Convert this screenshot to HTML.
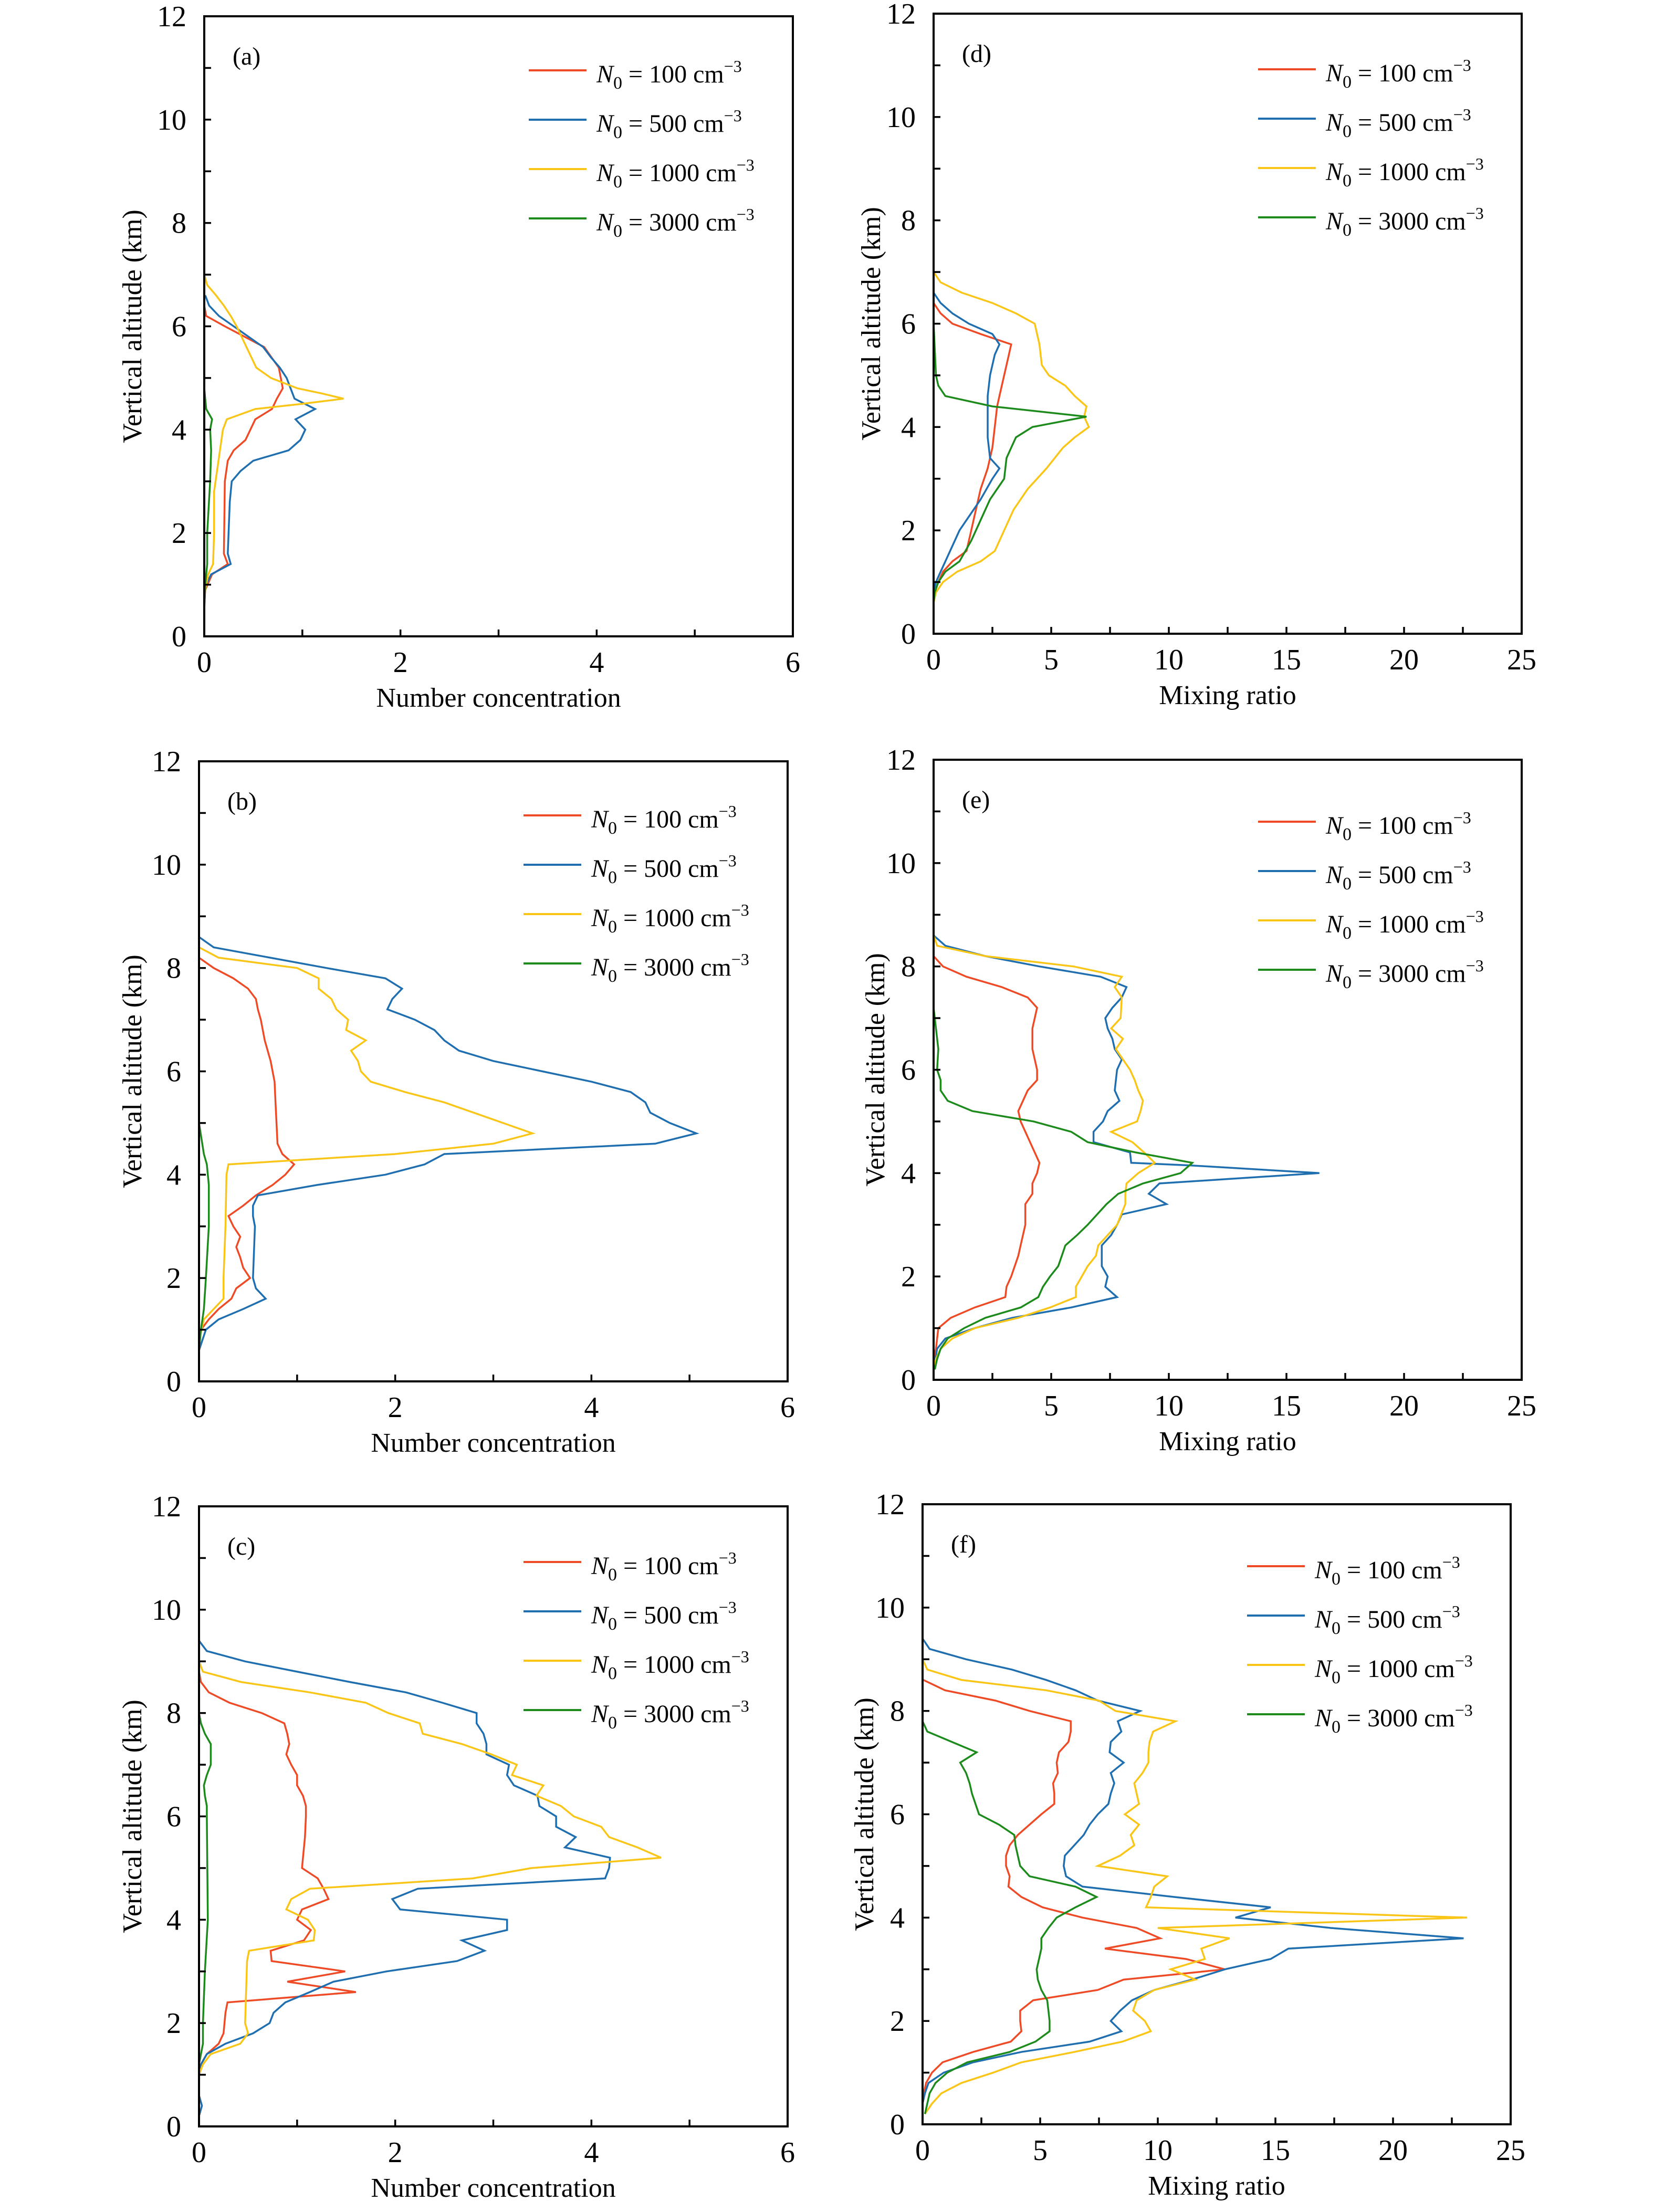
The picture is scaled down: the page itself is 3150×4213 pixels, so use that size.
<!DOCTYPE html>
<html><head><meta charset="utf-8"><style>
html,body{margin:0;padding:0;background:#fff;}
svg{display:block;}
text{font-family:"Liberation Serif","Times New Roman",serif;fill:#000;}
</style></head>
<body>
<svg id="fig" xmlns="http://www.w3.org/2000/svg" width="3150" height="4213" viewBox="0 0 3150 4213" font-family="'Liberation Serif', 'Times New Roman', serif">
</svg>
<script>
// ---------- Panel (a): number concentration ----------
const aRedAlt=[6.4,6.2,6.0,5.6,5.2,4.8,4.6,4.4,4.2,3.8,3.6,3.4,3.0,1.6,1.4,1.2,0.9,0.6];
const aRedVal=[0,0.02,0.21,0.61,0.76,0.80,0.74,0.69,0.52,0.42,0.30,0.24,0.21,0.20,0.24,0.08,0.01,0];
const aBlueAlt=[6.6,6.4,6.2,6.0,5.8,5.6,5.4,5.2,5.0,4.8,4.6,4.4,4.2,4.0,3.8,3.6,3.4,3.2,3.0,2.6,1.6,1.4,1.2,1.0,0.8];
const aBlueVal=[0.01,0.05,0.15,0.3,0.45,0.6,0.68,0.77,0.84,0.88,0.92,1.13,0.93,1.03,0.98,0.86,0.5,0.37,0.28,0.26,0.24,0.27,0.07,0.02,0];
const aYelAlt=[7.0,6.8,6.6,6.4,6.2,6.0,5.8,5.6,5.4,5.2,5.0,4.8,4.7,4.6,4.5,4.4,4.2,4.0,3.6,3.2,2.8,2.0,1.4,1.2,1.0,0.8];
const aYelVal=[0,0.03,0.12,0.2,0.27,0.33,0.38,0.43,0.48,0.53,0.68,0.95,1.2,1.42,1.0,0.52,0.23,0.19,0.16,0.13,0.1,0.1,0.09,0.04,0.02,0];
const aGrnAlt=[12,4.8,4.4,4.2,4.0,3.6,3.0,2.0,1.4,1.0,0.5,0.2];
const aGrnVal=[0,0,0.02,0.08,0.06,0.07,0.06,0.03,0.03,0.01,0,0];
// ---------- Panel (b) ----------
const bRedAlt=[8.2,8.0,7.8,7.6,7.4,7.2,7.0,6.6,6.2,5.8,5.4,5.0,4.6,4.4,4.2,4.0,3.8,3.6,3.4,3.2,3.0,2.8,2.6,2.4,2.2,2.0,1.8,1.6,1.4,1.2,1.0,0.8];
const bRedVal=[0,0.15,0.35,0.5,0.58,0.6,0.63,0.67,0.73,0.77,0.78,0.79,0.8,0.85,0.97,0.88,0.75,0.58,0.45,0.3,0.35,0.42,0.38,0.42,0.45,0.52,0.38,0.33,0.2,0.1,0.02,0];
const bBlueAlt=[8.6,8.4,8.0,7.8,7.6,7.4,7.2,7.0,6.8,6.6,6.4,6.2,6.0,5.8,5.6,5.4,5.2,5.0,4.8,4.6,4.4,4.2,4.0,3.8,3.6,3.4,3.2,3.0,2.0,1.8,1.6,1.4,1.2,1.0,0.6];
const bBlueVal=[0,0.15,1.3,1.9,2.07,1.97,1.92,2.2,2.4,2.5,2.65,3.0,3.5,4.0,4.4,4.55,4.6,4.8,5.07,4.65,2.5,2.3,1.9,1.2,0.6,0.55,0.55,0.57,0.55,0.58,0.68,0.45,0.2,0.07,0];
const bYelAlt=[8.4,8.2,8.0,7.8,7.6,7.4,7.2,7.0,6.8,6.6,6.4,6.2,6.0,5.8,5.6,5.4,5.2,5.0,4.8,4.6,4.4,4.2,4.0,3.0,2.0,1.6,1.4,1.2,0.8];
const bYelVal=[0,0.2,1.0,1.22,1.22,1.35,1.4,1.52,1.5,1.7,1.55,1.62,1.65,1.75,2.1,2.5,2.8,3.1,3.4,3.0,2.0,0.3,0.28,0.27,0.25,0.25,0.15,0.05,0];
const bGrnAlt=[12,5.0,4.4,4.2,3.8,3.0,2.0,1.4,1.0,0.6,0.2];
const bGrnVal=[0,0,0.05,0.08,0.1,0.1,0.07,0.05,0.02,0,0];
// ---------- Panel (c) ----------
const cRedAlt=[8.8,8.6,8.4,8.2,8.0,7.8,7.6,7.4,7.2,7.0,6.8,6.6,6.4,6.2,6.0,5.6,5.2,5.0,4.8,4.6,4.4,4.2,4.0,3.8,3.6,3.4,3.2,3.0,2.8,2.6,2.4,2.2,1.8,1.6,1.4,1.2,1.0];
const cRedVal=[0,0.02,0.1,0.31,0.64,0.87,0.9,0.92,0.89,0.94,1.0,1.0,1.06,1.09,1.09,1.08,1.06,1.05,1.21,1.27,1.32,1.05,1.0,1.14,1.07,0.73,0.74,1.49,0.9,1.6,0.29,0.27,0.25,0.2,0.08,0.02,0];
const cBlueAlt=[9.4,9.2,9.0,8.8,8.6,8.4,8.2,8.0,7.8,7.6,7.4,7.2,7.0,6.8,6.6,6.4,6.2,6.0,5.8,5.6,5.4,5.2,5.0,4.8,4.6,4.4,4.2,4.0,3.8,3.6,3.4,3.2,3.0,2.8,2.6,2.4,2.2,2.0,1.8,1.6,1.4,1.2,1.0,0.6,0.4,0.2];
const cBlueVal=[0,0.08,0.47,1.0,1.54,2.11,2.48,2.83,2.83,2.9,2.93,2.93,3.16,3.14,3.21,3.45,3.47,3.64,3.64,3.84,3.73,4.19,4.18,4.14,2.23,1.97,2.05,3.14,3.14,2.68,2.91,2.63,1.91,1.37,1.13,0.88,0.76,0.72,0.55,0.27,0.08,0.02,0,0,0.03,0];
const cYelAlt=[9.0,8.8,8.6,8.4,8.2,8.0,7.8,7.6,7.4,7.2,7.0,6.8,6.6,6.4,6.2,6.0,5.8,5.6,5.4,5.2,5.0,4.8,4.6,4.4,4.2,4.0,3.8,3.6,3.4,3.2,2.0,1.8,1.6,1.4,1.2,1.0];
const cYelVal=[0,0.04,0.43,1.13,1.7,1.93,2.25,2.28,2.68,2.98,3.24,3.19,3.51,3.44,3.69,3.82,4.1,4.18,4.47,4.71,3.39,2.79,1.13,0.94,0.89,1.11,1.18,1.17,0.51,0.49,0.47,0.5,0.42,0.12,0.04,0];
const cGrnAlt=[12,8.0,7.8,7.6,7.4,7.2,7.0,6.8,6.6,6.4,6.2,6.0,4.0,3.0,2.0,1.6,1.4,1.2,0.2];
const cGrnVal=[0,0,0.02,0.06,0.12,0.12,0.12,0.08,0.05,0.06,0.08,0.08,0.09,0.06,0.04,0.04,0.02,0,0];
// ---------- Panel (d): mixing ratio ----------
const dRedAlt=[6.4,6.2,6.0,5.8,5.6,5.4,5.0,4.6,4.4,4.0,3.6,3.2,2.8,2.4,2.0,1.6,1.4,1.2,1.0,0.8,0.6];
const dRedVal=[0,0.3,0.8,2.0,3.3,3.2,3.0,2.8,2.7,2.6,2.5,2.3,2.0,1.8,1.6,1.4,0.8,0.4,0.2,0.05,0];
const dBlueAlt=[6.6,6.4,6.2,6.0,5.8,5.6,5.4,5.0,4.6,4.2,3.8,3.4,3.2,3.0,2.6,2.2,2.0,1.6,1.2,1.0,0.8];
const dBlueVal=[0,0.3,0.8,1.5,2.5,2.8,2.6,2.4,2.3,2.3,2.3,2.4,2.8,2.5,2.0,1.4,1.1,0.7,0.3,0.1,0];
const dYelAlt=[7.0,6.8,6.6,6.4,6.2,6.0,5.8,5.6,5.2,5.0,4.8,4.6,4.4,4.2,4.0,3.8,3.6,3.2,2.8,2.4,2.0,1.6,1.4,1.2,1.0,0.8,0.6];
const dYelVal=[0,0.3,1.2,2.5,3.5,4.3,4.4,4.5,4.6,4.9,5.6,6.0,6.5,6.4,6.6,6.0,5.5,4.8,4.0,3.4,3.0,2.6,2.0,1.0,0.4,0.1,0];
const dGrnAlt=[12,6.0,5.0,4.8,4.6,4.4,4.2,4.0,3.8,3.6,3.4,3.0,2.6,2.2,1.8,1.4,1.2,1.0,0.8,0.6,0.2];
const dGrnVal=[0,0,0.1,0.2,0.5,2.5,6.5,4.2,3.5,3.3,3.1,3.0,2.4,2.0,1.6,1.1,0.5,0.2,0.05,0,0];
// ---------- Panel (e) ----------
const eRedAlt=[8.2,8.0,7.8,7.6,7.4,7.2,6.8,6.4,6.0,5.8,5.6,5.2,5.0,4.6,4.2,4.0,3.8,3.6,3.4,3.0,2.8,2.4,2.0,1.8,1.6,1.4,1.2,1.0,0.6,0.4];
const eRedVal=[0,0.4,1.4,2.9,4.0,4.4,4.2,4.2,4.4,4.4,4.0,3.6,3.7,4.1,4.5,4.4,4.2,4.2,3.9,3.9,3.8,3.6,3.3,3.1,3.05,1.75,0.73,0.2,0.1,0];
const eBlueAlt=[8.6,8.4,8.2,8.0,7.8,7.6,7.4,7.2,7.0,6.8,6.6,6.4,6.2,6.0,5.6,5.4,5.2,5.0,4.8,4.6,4.4,4.2,4.15,4.0,3.8,3.6,3.4,3.2,3.0,2.8,2.6,2.2,2.0,1.8,1.6,1.4,1.2,1.0,0.8,0.6,0.2];
const eBlueVal=[0,0.5,2.2,4.5,7.1,8.2,8.0,7.6,7.3,7.4,7.6,7.7,8.0,7.8,7.7,7.9,7.4,7.2,6.8,6.8,8.35,8.4,10.9,16.4,9.6,9.15,9.9,8.0,7.8,7.55,7.15,7.15,7.4,7.3,7.8,5.85,3.35,1.75,0.5,0.15,0];
const eYelAlt=[8.6,8.4,8.2,8.0,7.8,7.6,7.4,7.0,6.8,6.6,6.4,6.2,6.0,5.8,5.6,5.4,5.2,5.0,4.8,4.6,4.4,4.2,4.0,3.8,3.6,3.4,3.0,2.6,2.4,2.2,2.0,1.8,1.6,1.4,1.2,1.0,0.8,0.6,0.4,0.2];
const eYelVal=[0,0.15,2.2,5.95,8.0,7.7,8.0,7.95,7.55,8.05,7.75,8.05,8.35,8.55,8.7,8.9,8.8,8.65,7.55,8.45,8.95,9.4,8.7,8.2,8.15,8.15,7.8,7.0,6.9,6.55,6.3,6.05,6.05,4.95,3.6,1.75,0.8,0.3,0.1,0];
const eGrnAlt=[12,7.2,6.8,6.4,6.0,5.8,5.6,5.4,5.2,5.0,4.8,4.6,4.4,4.2,4.0,3.8,3.6,3.4,3.0,2.8,2.6,2.4,2.2,2.0,1.8,1.6,1.4,1.2,1.0,0.8,0.6,0.4,0.2];
const eGrnVal=[0,0,0.1,0.2,0.15,0.3,0.3,0.6,1.65,4.25,5.85,6.55,8.6,11.0,10.5,8.9,7.85,7.35,6.55,6.1,5.6,5.45,5.3,4.95,4.65,4.45,3.7,2.2,1.3,0.6,0.3,0.15,0.05];
// ---------- Panel (f) ----------
const fRedAlt=[8.6,8.4,8.2,8.0,7.8,7.6,7.4,7.2,7.0,6.8,6.6,6.4,6.2,6.0,5.8,5.6,5.4,5.2,5.0,4.8,4.6,4.4,4.2,4.0,3.8,3.6,3.4,3.2,3.0,2.8,2.6,2.4,2.2,2.0,1.8,1.6,1.4,1.2,1.0,0.8,0.6,0.4];
const fRedVal=[0.03,0.95,3.1,4.55,6.3,6.3,6.2,5.8,5.7,5.75,5.55,5.6,5.6,5.05,4.55,4.05,3.7,3.55,3.55,3.7,3.65,4.2,5.1,6.8,9.1,10.1,7.75,11.2,12.85,8.55,7.45,4.7,4.15,4.15,4.2,3.75,2.15,0.85,0.4,0.15,0.05,0];
const fBlueAlt=[9.4,9.2,9.0,8.8,8.6,8.4,8.2,8.0,7.8,7.6,7.4,7.2,7.0,6.8,6.6,6.4,6.2,6.0,5.8,5.6,5.4,5.2,5.0,4.8,4.6,4.4,4.2,4.0,3.8,3.6,3.4,3.2,3.0,2.8,2.6,2.4,2.2,2.0,1.8,1.6,1.4,1.2,1.0,0.8,0.6,0.4];
const fBlueVal=[0,0.3,1.85,3.8,5.25,6.5,7.45,9.25,8.3,8.45,8.0,7.95,8.55,8.0,8.15,8.0,7.9,7.45,7.1,6.85,6.45,6.05,6.0,6.1,6.8,10.7,14.8,13.3,17.35,23.0,15.55,14.8,12.85,11.45,9.85,8.9,8.4,8.0,8.45,7.1,4.2,2.15,0.9,0.25,0.1,0];
const fYelAlt=[9.0,8.8,8.6,8.4,8.2,8.0,7.8,7.6,7.4,7.2,7.0,6.8,6.6,6.4,6.2,6.0,5.8,5.6,5.4,5.2,5.0,4.8,4.6,4.4,4.2,4.0,3.8,3.6,3.4,3.2,3.0,2.8,2.6,2.4,2.2,2.0,1.8,1.6,1.4,1.2,1.0,0.8,0.6,0.4,0.2];
const fYelVal=[0,0.2,1.65,5.25,7.5,8.2,10.75,9.8,9.65,9.6,9.6,9.35,9.0,9.1,9.2,8.6,9.2,8.85,9.0,8.4,7.45,10.4,9.85,9.7,9.5,23.15,10.0,13.05,11.85,12.0,10.55,11.6,9.85,9.1,8.95,9.45,9.7,8.5,6.45,4.2,3.0,1.65,0.8,0.4,0.1];
const fGrnAlt=[12,7.8,7.6,7.4,7.2,7.0,6.8,6.6,6.4,6.2,6.0,5.8,5.6,5.4,5.2,5.0,4.8,4.6,4.4,4.2,4.0,3.8,3.6,3.4,3.2,3.0,2.8,2.6,2.4,2.2,2.0,1.8,1.6,1.4,1.2,1.0,0.8,0.6,0.4,0.2];
const fGrnVal=[0,0,0.2,1.25,2.3,1.6,1.85,2.0,2.1,2.25,2.4,3.25,3.9,3.95,4.05,4.15,4.55,6.5,7.4,6.5,5.7,5.35,5.05,5.05,4.95,4.85,4.9,5.05,5.3,5.35,5.4,5.4,4.8,3.7,1.9,1.05,0.55,0.3,0.2,0.1];

const legendLabels=["100","500","1000","3000"];
const colors=["#ee4a26","#1f6fb0","#f9c516","#1c8b1c"];
const xTickLabelsNum=["0","2","4","6"];
const xTickLabelsMix=["0","5","10","15","20","25"];
const yTickLabels=["0","2","4","6","8","10","12"];

const panels=[
 {id:"a",L:389,T:31,W:1121,H:1181,xmax:6,major:2,minor:1,xl:xTickLabelsNum,title:"Number concentration",ytx:253,lgT:103,
  s:[[aRedAlt,aRedVal],[aBlueAlt,aBlueVal],[aYelAlt,aYelVal],[aGrnAlt,aGrnVal]]},
 {id:"b",L:379,T:1450,W:1121,H:1181,xmax:6,major:2,minor:1,xl:xTickLabelsNum,title:"Number concentration",ytx:253,lgT:103,
  s:[[bRedAlt,bRedVal],[bBlueAlt,bBlueVal],[bYelAlt,bYelVal],[bGrnAlt,bGrnVal]]},
 {id:"c",L:379,T:2869,W:1121,H:1181,xmax:6,major:2,minor:1,xl:xTickLabelsNum,title:"Number concentration",ytx:253,lgT:106,
  s:[[cRedAlt,cRedVal],[cBlueAlt,cBlueVal],[cYelAlt,cYelVal],[cGrnAlt,cGrnVal]]},
 {id:"d",L:1778,T:26,W:1120,H:1181,xmax:25,major:5,minor:2.5,xl:xTickLabelsMix,title:"Mixing ratio",ytx:1660,lgT:106,
  s:[[dRedAlt,dRedVal],[dBlueAlt,dBlueVal],[dYelAlt,dYelVal],[dGrnAlt,dGrnVal]]},
 {id:"e",L:1778,T:1447,W:1120,H:1181,xmax:25,major:5,minor:2.5,xl:xTickLabelsMix,title:"Mixing ratio",ytx:1668,lgT:118,
  s:[[eRedAlt,eRedVal],[eBlueAlt,eBlueVal],[eYelAlt,eYelVal],[eGrnAlt,eGrnVal]]},
 {id:"f",L:1757,T:2865,W:1120,H:1181,xmax:25,major:5,minor:2.5,xl:xTickLabelsMix,title:"Mixing ratio",ytx:1647,lgT:118,
  s:[[fRedAlt,fRedVal],[fBlueAlt,fBlueVal],[fYelAlt,fYelVal],[fGrnAlt,fGrnVal]]}
];
const seriesNames=["n0-100","n0-500","n0-1000","n0-3000"];
const NS="http://www.w3.org/2000/svg";
const svg=document.getElementById("fig");
function mk(tag,attrs,parent){const e=document.createElementNS(NS,tag);for(const k in attrs)e.setAttribute(k,attrs[k]);(parent||svg).appendChild(e);return e;}

panels.forEach(p=>{
  const g=mk("g",{});
  
  
  const xs=v=>p.L+v/p.xmax*p.W;
  const ys=v=>p.T+p.H-v/12*p.H;
  p.s.forEach((s,i)=>{
    const pts=s[0].map((a,k)=>xs(s[1][k]).toFixed(1)+","+ys(a).toFixed(1)).join(" ");
    const pl=mk("polyline",{points:pts,fill:"none",stroke:colors[i],"stroke-width":3.5,"stroke-linejoin":"miter"},g);
    
    
  });
  const fr=mk("rect",{x:p.L,y:p.T,width:p.W,height:p.H,fill:"none",stroke:"#000","stroke-width":4},g);
  
  
  for(let v=0;v<=12;v++){
    const y=ys(v);
    const t=mk("line",{x1:p.L,x2:p.L+13,y1:y,y2:y,stroke:"#000","stroke-width":3.5},g);
    
    
  }
  yTickLabels.forEach((lab,i)=>{
    const tx=mk("text",{x:p.L-34,y:ys(i*2)+19,"text-anchor":"end","font-size":56},g);
    tx.textContent=lab;
    
    
  });
  for(let v=0;v<=p.xmax+1e-9;v+=p.minor){
    const x=xs(v);
    const t=mk("line",{x1:x,x2:x,y1:p.T+p.H,y2:p.T+p.H-13,stroke:"#000","stroke-width":3.5},g);
    
    
  }
  p.xl.forEach((lab,i)=>{
    const tx=mk("text",{x:xs(i*p.major),y:p.T+p.H+68,"text-anchor":"middle","font-size":56},g);
    tx.textContent=lab;
    
    
  });
  const xt=mk("text",{x:p.L+p.W/2,y:p.T+p.H+134,"text-anchor":"middle","font-size":52},g);
  xt.textContent=p.title;
  
  
  const cy=p.T+p.H/2;
  const yt=mk("text",{x:p.ytx,y:cy,"text-anchor":"middle","font-size":52,transform:`rotate(-90 ${p.ytx} ${cy})`,dy:"16"},g);
  yt.textContent="Vertical altitude (km)";
  
  
  const pl=mk("text",{x:p.L+54,y:p.T+92,"font-size":48},g);
  pl.textContent="("+p.id+")";
  
  
  legendLabels.forEach((lab,i)=>{
    const y=p.T+p.lgT+i*94;
    const lg=mk("g",{},g);
    
    
    mk("line",{x1:p.L+618,x2:p.L+728,y1:y,y2:y,stroke:colors[i],"stroke-width":4},lg);
    const t=mk("text",{x:p.L+747,y:y+23,"font-size":48},lg);
    const a=mk("tspan",{"font-style":"italic"},t);a.textContent="N";
    const b=mk("tspan",{"font-size":34,dy:"12"},t);b.textContent="0";
    const c=mk("tspan",{dy:"-12"},t);c.textContent=" = "+lab+" cm";
    const d=mk("tspan",{"font-size":32,dy:"-20"},t);d.textContent="\u22123";
  });
});
</script>
</body></html>
